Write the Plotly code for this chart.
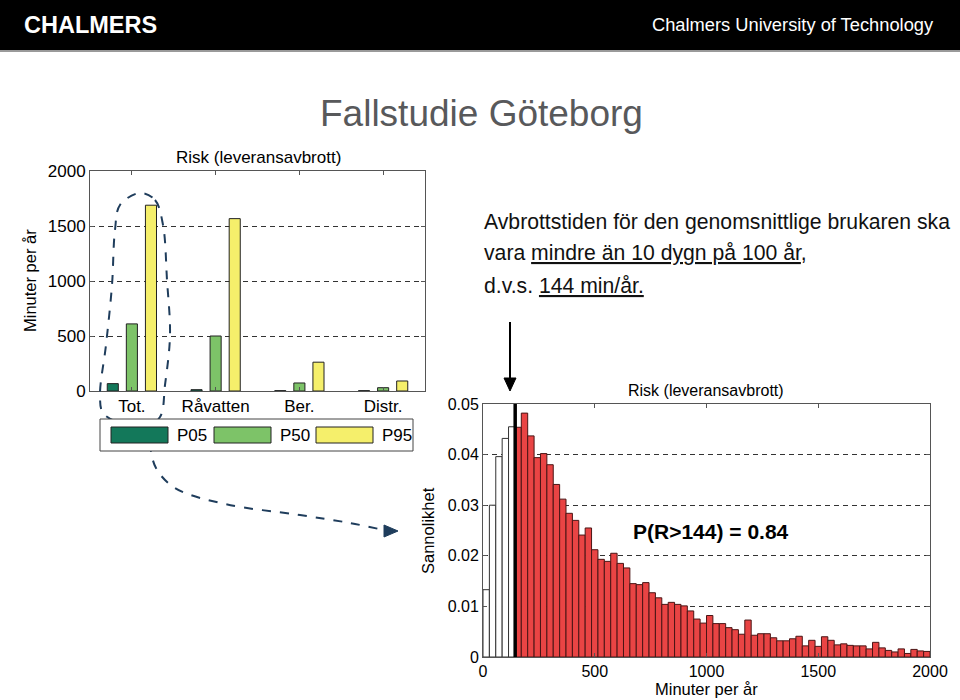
import plotly.graph_objects as go

# ---------------- data ----------------
categories = ["Tot.", "Råvatten", "Ber.", "Distr."]
series_names = ["P05", "P50", "P95"]
p05 = [67, 12, 3, 3]
p50 = [610, 500, 73, 30]
p95 = [1689, 1567, 262, 91]

hist_bin_width = 2000 / 70
hist_probs = [
    0.0133, 0.0300, 0.0396, 0.0432, 0.0455,
    0.0454, 0.0482, 0.0437, 0.0394, 0.0402, 0.0380, 0.0341, 0.0312, 0.0284, 0.0270,
    0.0241, 0.0255, 0.0212, 0.0193, 0.0189, 0.0205, 0.0185, 0.0176, 0.0145, 0.0143,
    0.0147, 0.0127, 0.0117, 0.0104, 0.0108, 0.0104, 0.0101, 0.0091, 0.0075, 0.0067,
    0.0082, 0.0066, 0.0066, 0.0058, 0.0054, 0.0045, 0.0073, 0.0043, 0.0046, 0.0046,
    0.0038, 0.0032, 0.0032, 0.0036, 0.0041, 0.0022, 0.0033, 0.0021, 0.0040, 0.0033,
    0.0024, 0.0026, 0.0023, 0.0022, 0.0022, 0.0016, 0.0029, 0.0018, 0.0013, 0.0010,
    0.0016, 0.0007, 0.0015, 0.0012, 0.0011,
]
threshold = 144
hist_x_ticks = [0, 500, 1000, 1500, 2000]
hist_y_ticks = [0, 0.01, 0.02, 0.03, 0.04, 0.05]
bar_y_ticks = [0, 500, 1000, 1500, 2000]

# ---------------- helpers ----------------
W, H = 960, 700
FONT = "Liberation Sans, Arial, Helvetica, sans-serif"


def px(x):
    return x / W


def py(y):
    return 1 - y / H


series_colors = ["#13785a", "#7dc368", "#f5ef6b"]

fig = go.Figure()

for name, vals, col in zip(series_names, [p05, p50, p95], series_colors):
    fig.add_trace(go.Bar(
        x=categories, y=vals, name=name, xaxis="x", yaxis="y",
        marker=dict(color=col, line=dict(color="#222222", width=1)),
        showlegend=False,
    ))

centers = [(i + 0.5) * hist_bin_width for i in range(len(hist_probs))]
colors = ["#ffffff" if (i + 1) * hist_bin_width <= threshold + 1 else "#e94444"
          for i in range(len(hist_probs))]
line_colors = ["#333333" if c == "#ffffff" else "#4a1515" for c in colors]
fig.add_trace(go.Bar(
    x=centers, y=hist_probs, width=hist_bin_width, xaxis="x2", yaxis="y2",
    marker=dict(color=colors, line=dict(color=line_colors, width=1)),
    showlegend=False,
))
fig.add_trace(go.Scatter(
    x=[threshold, threshold], y=[0, 0.05], mode="lines", xaxis="x2", yaxis="y2",
    line=dict(color="black", width=3.5), showlegend=False, hoverinfo="skip",
))

NAVY = "#1f3d5c"
loop_x = [140, 155, 163, 167, 170, 165, 160, 145, 120, 103, 100, 106, 112, 115, 120, 140]
loop_y = [193, 200, 225, 280, 335, 385, 417, 427, 423, 413, 395, 345, 285, 230, 205, 193]
tail_x = [148, 150, 156, 175, 225, 300, 350, 388]
tail_y = [425, 445, 468, 488, 504, 515, 523, 531]
fig.add_trace(go.Scatter(x=loop_x, y=loop_y, mode="lines", xaxis="x3", yaxis="y3",
                         line=dict(color=NAVY, width=2, dash="dash", shape="spline", smoothing=1.0),
                         showlegend=False, hoverinfo="skip"))
fig.add_trace(go.Scatter(x=tail_x, y=tail_y, mode="lines", xaxis="x3", yaxis="y3",
                         line=dict(color=NAVY, width=2, dash="dash", shape="spline", smoothing=1.0),
                         showlegend=False, hoverinfo="skip"))

axis_line = dict(showline=True, linecolor="#555555", linewidth=1, mirror="ticks",
                 ticks="inside", ticklen=4, tickcolor="#555555", automargin=False)
grid = dict(showgrid=True, gridcolor="#333333", gridwidth=1, griddash="5px,4px")

fig.update_layout(
    width=W, height=H, margin=dict(l=0, r=0, t=0, b=0, pad=0, autoexpand=False),
    paper_bgcolor="white", plot_bgcolor="rgba(0,0,0,0)",
    font=dict(family=FONT, color="black"),
    barmode="group", bargap=0.316, bargroupgap=0.42,
    xaxis=dict(domain=[px(90), px(425)], anchor="y", type="category",
               range=[-0.5, 3.5], showgrid=False, zeroline=False,
               tickfont=dict(size=17), **axis_line),
    yaxis=dict(domain=[py(391), py(171)], anchor="x", range=[0, 2000],
               tickvals=bar_y_ticks, zeroline=False, tickfont=dict(size=17),
               **axis_line, **grid),
    xaxis2=dict(domain=[px(483), px(930)], anchor="y2", range=[0, 2000],
                tickvals=hist_x_ticks, showgrid=False, zeroline=False,
                tickfont=dict(size=16), **axis_line),
    yaxis2=dict(domain=[py(657), py(404)], anchor="x2", range=[0, 0.05],
                tickvals=hist_y_ticks, zeroline=False, tickfont=dict(size=16),
                **axis_line, **grid),
    xaxis3=dict(domain=[0, 1], anchor="y3", range=[0, W], visible=False,
                fixedrange=True, automargin=False),
    yaxis3=dict(domain=[0, 1], anchor="x3", range=[H, 0], visible=False,
                fixedrange=True, automargin=False),
)

shapes = []
annotations = []

shapes.append(dict(type="rect", xref="paper", yref="paper", x0=0, x1=1, y0=py(50), y1=1,
                   fillcolor="black", line=dict(width=0), layer="below"))
shapes.append(dict(type="line", xref="paper", yref="paper", x0=0, x1=1, y0=py(51), y1=py(51),
                   line=dict(color="#9a9a9a", width=2)))
annotations.append(dict(text="<b>CHALMERS</b>", x=px(22), y=py(25), xref="paper", yref="paper",
                        xanchor="left", yanchor="middle", showarrow=False,
                        font=dict(size=23.5, color="white", family=FONT)))
annotations.append(dict(text="Chalmers University of Technology", x=px(936), y=py(25),
                        xref="paper", yref="paper", xanchor="right", yanchor="middle",
                        showarrow=False, font=dict(size=18.3, color="white", family=FONT)))

annotations.append(dict(text="Fallstudie Göteborg", x=px(481), y=py(113), xref="paper", yref="paper",
                        xanchor="center", yanchor="middle", showarrow=False,
                        font=dict(size=37, color="#58595b", family=FONT)))

U = "<span style='text-decoration:underline'>{}</span>"
text_lines = [
    (222, "Avbrottstiden för den genomsnittlige brukaren ska"),
    (253, "vara " + U.format("mindre än 10 dygn på 100 år") + ","),
    (285, "d.v.s. " + U.format("144 min/år.")),
]
for y, t in text_lines:
    annotations.append(dict(text=t, x=px(482), y=py(y), xref="paper", yref="paper",
                            xanchor="left", yanchor="middle", showarrow=False,
                            font=dict(size=21.2, color="#111111", family=FONT)))

shapes.append(dict(type="line", xref="paper", yref="paper", x0=px(510), x1=px(510),
                   y0=py(322), y1=py(379), line=dict(color="black", width=2)))
shapes.append(dict(type="path", xref="paper", yref="paper",
                   path=f"M {px(504)},{py(378)} L {px(516)},{py(378)} L {px(510)},{py(391)} Z",
                   fillcolor="black", line=dict(color="black", width=1)))

shapes.append(dict(type="path", xref="paper", yref="paper",
                   path=f"M {px(384)},{py(525)} L {px(398)},{py(531)} L {px(384)},{py(537)} Z",
                   fillcolor=NAVY, line=dict(color=NAVY, width=1)))

annotations.append(dict(text="Risk (leveransavbrott)", x=px(258), y=py(157), xref="paper", yref="paper",
                        xanchor="center", yanchor="middle", showarrow=False,
                        font=dict(size=17, family=FONT)))
annotations.append(dict(text="Minuter per år", x=px(30), y=py(281), xref="paper", yref="paper",
                        xanchor="center", yanchor="middle", showarrow=False, textangle=-90,
                        font=dict(size=16.5, family=FONT)))

shapes.append(dict(type="rect", xref="paper", yref="paper", x0=px(100), x1=px(413),
                   y0=py(451), y1=py(419), fillcolor="white", line=dict(color="#444444", width=1)))
leg_x = [111, 214, 316]
for lx, name, col in zip(leg_x, series_names, series_colors):
    shapes.append(dict(type="rect", xref="paper", yref="paper", x0=px(lx), x1=px(lx + 57),
                       y0=py(443), y1=py(427), fillcolor=col, line=dict(color="#222222", width=1)))
    annotations.append(dict(text=name, x=px(lx + 64), y=py(435), xref="paper", yref="paper",
                            xanchor="left", yanchor="middle", showarrow=False,
                            font=dict(size=17, family=FONT)))

annotations.append(dict(text="Risk (leveransavbrott)", x=px(706), y=py(390), xref="paper", yref="paper",
                        xanchor="center", yanchor="middle", showarrow=False,
                        font=dict(size=16, family=FONT)))
annotations.append(dict(text="Sannolikhet", x=px(428), y=py(531), xref="paper", yref="paper",
                        xanchor="center", yanchor="middle", showarrow=False, textangle=-90,
                        font=dict(size=16.5, family=FONT)))
annotations.append(dict(text="Minuter per år", x=px(706), y=py(689), xref="paper", yref="paper",
                        xanchor="center", yanchor="middle", showarrow=False,
                        font=dict(size=16.5, family=FONT)))
annotations.append(dict(text="<b>P(R>144) = 0.84</b>", x=px(711), y=py(531), xref="paper", yref="paper",
                        xanchor="center", yanchor="middle", showarrow=False,
                        font=dict(size=21, family=FONT)))

fig.update_layout(shapes=shapes, annotations=annotations)

fig.write_html(
    "out.html",
    config={"displayModeBar": False},
    post_script="document.body.style.margin='0';document.body.style.overflow='hidden';",
)
